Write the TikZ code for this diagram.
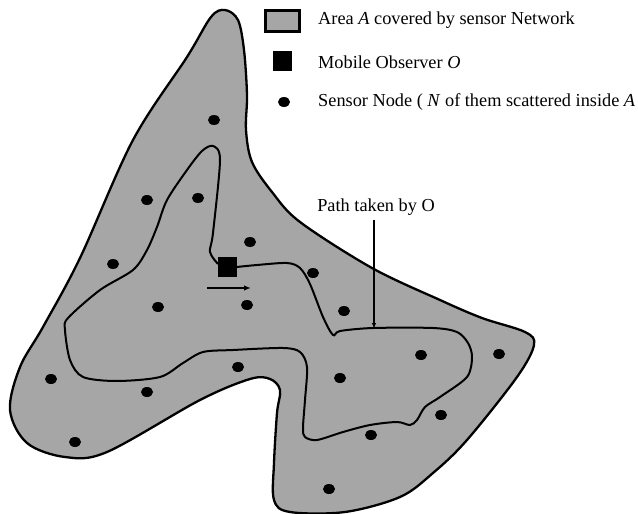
\documentclass[tikz,border=0pt]{standalone}
\usepackage{fontspec}
\setmainfont{Liberation Serif}
\usetikzlibrary{shapes.geometric,arrows.meta}
\definecolor{areagray}{RGB}{166,166,166}
\tikzset{
  area/.style={fill=areagray,draw=black,line width=2.3pt},
  sensor/.style={ellipse,fill=black,inner sep=0pt,minimum width=12pt,minimum height=10pt},
  observer/.style={rectangle,fill=black,inner sep=0pt,minimum width=19pt,minimum height=20pt},
  route/.style={draw=black,line width=2pt},
  arr/.style={draw=black,line width=1.6pt,-{Latex[length=7pt,width=5.5pt]}},
  lbl/.style={font=\fontsize{18.3}{21}\selectfont,inner sep=0pt},
}
\begin{document}
\begin{tikzpicture}[x=1pt,y=-1pt]
\useasboundingbox (0,0) rectangle (638,514);
% area
\draw[area] plot[smooth cycle,tension=0.55] coordinates {
(225,10) (238,20) (244,50) (247,95) (246,130) (252,162) (272,192) (300,222)
(372,268) (440,300) (482,318) (525,332) (534,345) (517,377) (467,440) (433,473)
(400,497) (345,512) (290,512) (274,500) (274,463) (277,413) (280,390) (270,379)
(250,379) (200,400) (107,452) (65,457) (27,443) (10,410) (20,367) (43,327)
(80,258) (133,140) (187,57) (211,17)};
% observer
\node[observer] (obs) at (227,267) {};
% path of observer
\draw[route] plot[smooth,tension=0.5] coordinates {
(obs.east) (257,265) (287,263) (300,268) (310,284) (323,317) (333,335)
(340,331) (373,328) (433,328) (457,332) (468,343) (472,357) (467,377) (440,397)
(425,407) (417,420) (410,425) (397,422) (370,425) (343,432) (317,440) (305,437)
(303,428) (305,400) (307,367) (300,352) (283,348) (233,350) (203,352) (183,363)
(160,377) (117,381) (83,377) (70,360) (65,330) (68,318) (100,290) (133,270)
(147,250) (157,227) (167,200) (187,170) (202,151) (213,146) (220,160) (213,233)
(210,252) (218,264)};
% sensors
\foreach \n/\x/\y in {s1/214/120,s2/147/200,s3/198/198,s4/250/242,s5/113/264,
  s6/313/273,s7/158/307,s8/247/305,s9/344/311,s10/421/355,s11/499/354,s12/238/367,
  s13/147/392,s14/340/378,s15/51/379,s16/441/415,s17/371/435,s18/75/442,s19/329/489}
  \node[sensor] (\n) at (\x,\y) {};
% direction arrow
\coordinate (d1) at (207,288);
\coordinate (d2) at (251,288);
\draw[arr] (d1) -- (d2);
% path label
\node[lbl] (ptext) at (376,207) {Path taken by O};
\coordinate (ptip) at (374,329);
\draw[arr,-{Latex[length=6pt,width=4.5pt]}] (ptext.south -| ptip) ++(0,4) -- (ptip);
% legend
\node[rectangle,fill=areagray,draw=black,line width=2.3pt,minimum width=34pt,minimum height=21pt,inner sep=0pt] (lg1) at (282.5,21) {};
\node[lbl,anchor=west] (lt1) at (318,20) {Area \textit{A} covered by sensor Network};
\node[observer] (lg2) at (282.5,61) {};
\node[lbl,anchor=west] (lt2) at (318,62) {Mobile Observer \textit{O}};
\node[sensor] (lg3) at (284,102) {};
\node[lbl,anchor=west] (lt3) at (318,102) {Sensor Node ( \textit{N} of them scattered inside \textit{A}};
\end{tikzpicture}
\end{document}
